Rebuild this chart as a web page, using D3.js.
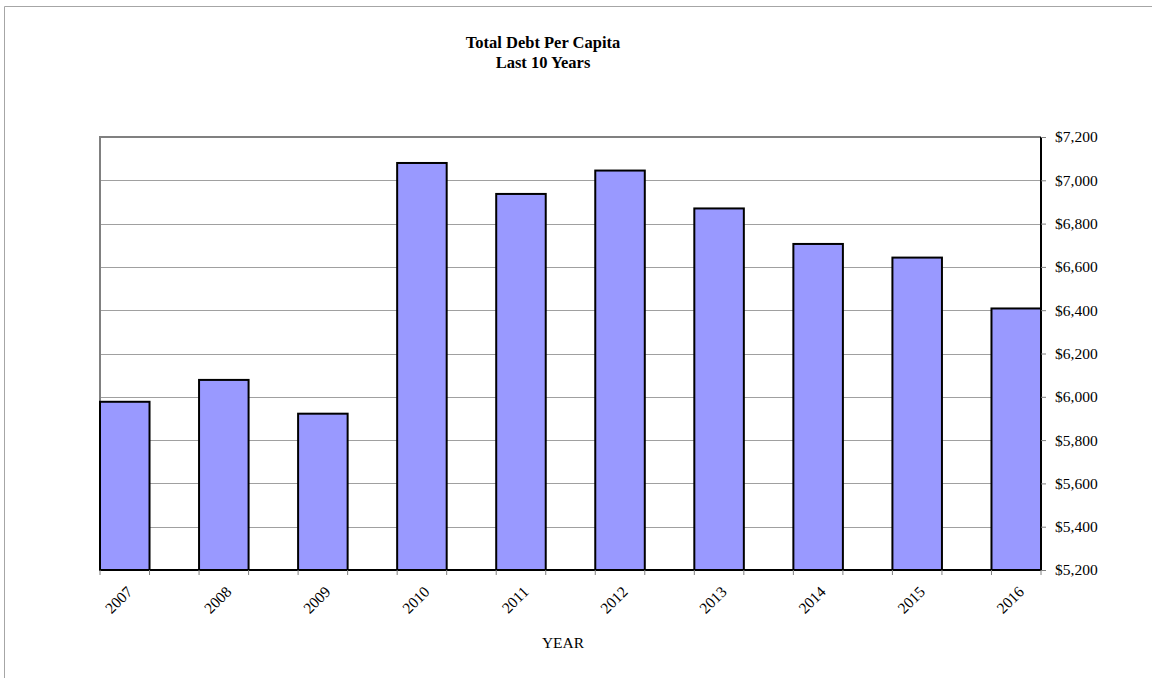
<!DOCTYPE html>
<html>
<head>
<meta charset="utf-8">
<script src="https://cdn.jsdelivr.net/npm/d3@7"></script>
<style>
  html, body { margin: 0; padding: 0; background: #fff; }
  svg { display: block; }
  text { font-family: "Liberation Serif", "Times New Roman", serif; fill: #000; }
</style>
</head>
<body>
<svg id="chart" width="1152" height="678"></svg>
<script>
const years = ["2007","2008","2009","2010","2011","2012","2013","2014","2015","2016"];
const debtPerCapita = [5977, 6078, 5922, 7080, 6937, 7045, 6870, 6706, 6643, 6408];
const yTicks = [5200, 5400, 5600, 5800, 6000, 6200, 6400, 6600, 6800, 7000, 7200];
const titleLines = ["Total Debt Per Capita", "Last 10 Years"];
const xTitle = "YEAR";

const svg = d3.select("#chart");
const W = 1152, H = 678;
const plot = { left: 100, right: 1041, top: 137, bottom: 570 };

// outer frame
svg.append("path")
  .attr("d", `M4.5,${H} L4.5,6.5 L${W},6.5`)
  .attr("fill", "none").attr("stroke", "#a6a6a6").attr("stroke-width", 1);

const x = d3.scaleBand().domain(years).range([plot.left, plot.right])
  .paddingInner(0.5).paddingOuter(0);
const y = d3.scaleLinear().domain([5200, 7200]).range([plot.bottom, plot.top]);

// gridlines
svg.append("g").selectAll("line").data(yTicks.slice(1, -1)).join("line")
  .attr("x1", plot.left).attr("x2", plot.right)
  .attr("y1", d => Math.round(y(d)) + 0.5).attr("y2", d => Math.round(y(d)) + 0.5)
  .attr("stroke", "#a0a0a0").attr("stroke-width", 1);

// plot border (left & top gray)
svg.append("path")
  .attr("d", `M${plot.left},${plot.bottom} L${plot.left},${plot.top} L${plot.right},${plot.top}`)
  .attr("fill", "none").attr("stroke", "#808080").attr("stroke-width", 2);

// bars
svg.append("g").selectAll("rect").data(years).join("rect")
  .attr("x", d => x(d))
  .attr("y", (d, i) => y(debtPerCapita[i]))
  .attr("width", x.bandwidth())
  .attr("height", (d, i) => y(5200) - y(debtPerCapita[i]))
  .attr("fill", "#9999ff").attr("stroke", "#000").attr("stroke-width", 2);

// right axis
const yAxis = d3.axisRight(y).tickValues(yTicks).tickSize(5).tickPadding(9)
  .tickFormat(d => "$" + d3.format(",")(d));
const ya = svg.append("g").attr("transform", `translate(${plot.right},0)`).call(yAxis);
ya.select(".domain").attr("stroke", "#000").attr("stroke-width", 2).attr("d", `M0,${plot.top}V${plot.bottom}`);
ya.selectAll(".tick line").attr("stroke", "#808080");
ya.selectAll(".tick text").attr("font-size", "15.5px")
  .attr("font-family", "Liberation Serif, Times New Roman, serif").attr("fill", "#000");

// bottom axis line
svg.append("line").attr("x1", plot.left).attr("x2", plot.right)
  .attr("y1", plot.bottom).attr("y2", plot.bottom)
  .attr("stroke", "#000").attr("stroke-width", 2);

// x tick marks at bar edges
const edges = [];
years.forEach(d => { edges.push(x(d)); edges.push(x(d) + x.bandwidth()); });
svg.append("g").selectAll("line").data(edges).join("line")
  .attr("x1", d => d).attr("x2", d => d)
  .attr("y1", plot.bottom).attr("y2", plot.bottom + 5)
  .attr("stroke", "#808080");

// x labels
svg.append("g").selectAll("text").data(years).join("text")
  .attr("transform", d => `translate(${x(d) + x.bandwidth() / 2 + 1},${plot.bottom + 15}) rotate(-45)`)
  .attr("text-anchor", "end").attr("dy", "0.7em")
  .attr("font-size", "15.5px")
  .text(d => d);

// title
svg.append("text").attr("x", 543).attr("y", 48)
  .attr("text-anchor", "middle").attr("font-weight", "bold").attr("font-size", "16.5px")
  .selectAll("tspan").data(titleLines).join("tspan")
  .attr("x", 543).attr("dy", (d, i) => i === 0 ? 0 : 20).text(d => d);

// x title
svg.append("text").attr("x", 563).attr("y", 648)
  .attr("text-anchor", "middle").attr("font-size", "15.5px").text(xTitle);
</script>
</body>
</html>
